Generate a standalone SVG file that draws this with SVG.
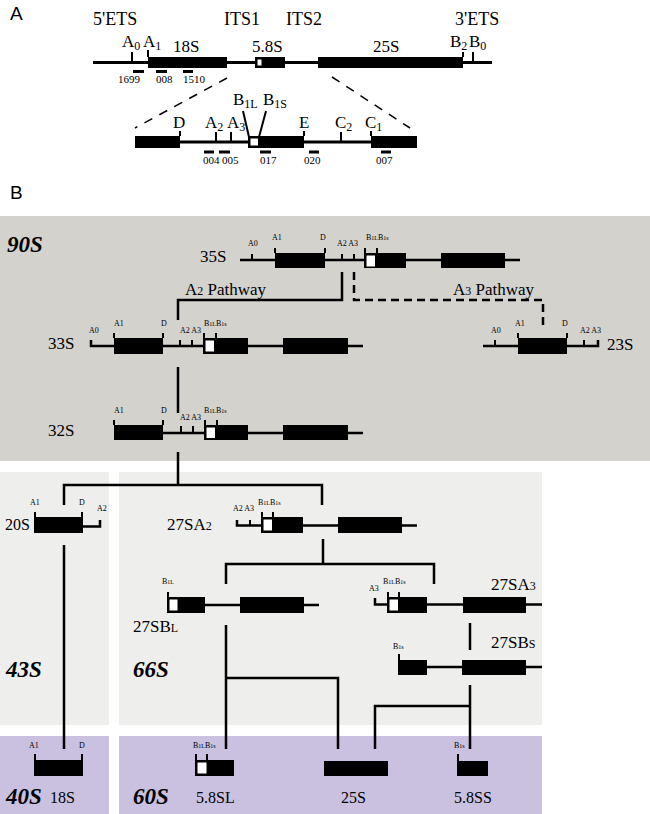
<svg xmlns="http://www.w3.org/2000/svg" width="650" height="814" viewBox="0 0 650 814">
<style>
.ln{stroke:#000;stroke-width:2.5;fill:none}
.la{stroke:#000;stroke-width:3;fill:none}
.tk{stroke:#000;stroke-width:2;fill:none}
.ds{stroke:#000;stroke-width:2.5;fill:none;stroke-dasharray:8 5}
.da{stroke:#000;stroke-width:1.5;fill:none;stroke-dasharray:9 8}
.bx{fill:#000}
.wh{fill:#fff}
text{font-family:"Liberation Serif","Times New Roman",serif;fill:#000}
.hd{font-family:"Liberation Sans",Arial,sans-serif;font-size:19px}
.lg{font-size:17px}
.xl{font-size:18px}
.md{font-size:16px}
.pr{font-size:11px}
.sm{font-size:8px}
.ss{font-size:6px}
.sb{font-size:12px}
.big{font-size:23px;font-weight:bold;font-style:italic}
</style>

<!-- Panel backgrounds -->
<g id="bg">
<rect x="0" y="216" width="650" height="245" fill="#d3d2cd"/>
<rect x="0" y="472" width="109" height="253" fill="#eeeeec"/>
<rect x="119" y="472" width="423" height="253" fill="#eeeeec"/>
<rect x="0" y="736" width="109" height="78" fill="#c9c1df"/>
<rect x="119" y="736" width="423" height="78" fill="#c9c1df"/>
</g>

<text class="hd" x="10" y="20">A</text>
<text class="hd" x="10" y="199">B</text>

<!-- Part A: full gene -->
<g id="gene-full">
<line class="la" x1="93" y1="62.5" x2="492" y2="62.5"/>
<rect class="bx" x="148" y="57" width="79" height="11"/>
<rect class="bx" x="255" y="57" width="30" height="11"/>
<rect class="wh" x="257.5" y="59.5" width="4" height="6"/>
<rect class="bx" x="318" y="57" width="145" height="11"/>
<line class="tk" x1="132" y1="52" x2="132" y2="62"/>
<line class="tk" x1="148" y1="50" x2="148" y2="57"/>
<line class="tk" x1="463" y1="52" x2="463" y2="57"/>
<line class="tk" x1="473" y1="52" x2="473" y2="62"/>
<rect class="bx" x="133" y="70" width="11" height="3"/>
<rect class="bx" x="156" y="70" width="11" height="3"/>
<rect class="bx" x="183" y="70" width="10" height="3"/>
<text class="xl" x="93" y="25">5'ETS</text>
<text class="xl" x="224" y="25">ITS1</text>
<text class="xl" x="286" y="25">ITS2</text>
<text class="xl" x="455" y="25">3'ETS</text>
<text class="lg" x="122" y="47">A<tspan class="sb" dy="3">0</tspan></text>
<text class="lg" x="143" y="47">A<tspan class="sb" dy="3">1</tspan></text>
<text class="lg" x="173" y="52">18S</text>
<text class="lg" x="252" y="52">5.8S</text>
<text class="lg" x="373" y="52">25S</text>
<text class="lg" x="450" y="47">B<tspan class="sb" dy="3">2</tspan></text>
<text class="lg" x="469" y="47">B<tspan class="sb" dy="3">0</tspan></text>
<text class="pr" x="118" y="83">1699</text>
<text class="pr" x="156" y="83">008</text>
<text class="pr" x="183" y="83">1510</text>
</g>

<!-- Part A: expanded region -->
<g id="gene-zoom">
<line class="da" x1="227" y1="78" x2="135" y2="128"/>
<line class="da" x1="332" y1="77" x2="410" y2="128"/>
<line class="la" x1="135" y1="142" x2="417" y2="142"/>
<rect class="bx" x="135" y="136" width="45" height="12"/>
<rect class="bx" x="248" y="136" width="56" height="12"/>
<rect class="wh" x="250.5" y="138.5" width="7.5" height="7"/>
<rect class="bx" x="371" y="136" width="46" height="12"/>
<line class="tk" x1="180" y1="131" x2="180" y2="136"/>
<line class="tk" x1="216" y1="132" x2="216" y2="142"/>
<line class="tk" x1="231" y1="132" x2="231" y2="142"/>
<line class="tk" x1="304" y1="131" x2="304" y2="136"/>
<line class="tk" x1="341" y1="132" x2="341" y2="142"/>
<line class="tk" x1="371" y1="131" x2="371" y2="136"/>
<line class="tk" x1="243" y1="111" x2="249" y2="137"/>
<line class="tk" x1="266" y1="111" x2="259" y2="137"/>
<rect class="bx" x="204" y="150.5" width="10" height="3"/>
<rect class="bx" x="219" y="150.5" width="11" height="3"/>
<rect class="bx" x="260" y="150.5" width="11" height="3"/>
<rect class="bx" x="309" y="150.5" width="10" height="3"/>
<rect class="bx" x="381" y="150.5" width="10" height="3"/>
<text class="lg" x="233" y="105">B<tspan class="sb" dy="3">1L</tspan></text>
<text class="lg" x="263" y="105">B<tspan class="sb" dy="3">1S</tspan></text>
<text class="lg" x="173" y="128">D</text>
<text class="lg" x="205" y="128">A<tspan class="sb" dy="3">2</tspan></text>
<text class="lg" x="227" y="128">A<tspan class="sb" dy="3">3</tspan></text>
<text class="lg" x="299" y="128">E</text>
<text class="lg" x="335" y="128">C<tspan class="sb" dy="3">2</tspan></text>
<text class="lg" x="365" y="128">C<tspan class="sb" dy="3">1</tspan></text>
<text class="pr" x="203" y="164">004</text>
<text class="pr" x="222" y="164">005</text>
<text class="pr" x="260" y="164">017</text>
<text class="pr" x="304" y="164">020</text>
<text class="pr" x="376" y="164">007</text>
</g>

<!-- Part B complex labels -->
<g id="complex-labels">
<text class="big" x="7" y="252">90S</text>
<text class="big" x="6" y="677">43S</text>
<text class="big" x="133" y="677">66S</text>
<text class="big" x="6" y="804">40S</text>
<text class="big" x="133" y="804">60S</text>
</g>

<!-- Connectors -->
<g id="connectors">
<path class="ln" d="M342 272V300H178V320"/>
<path class="ds" d="M354 272V300H543V327"/>
<line class="ln" x1="178" y1="367" x2="178" y2="413"/>
<path class="ln" d="M178 452V485M64 505V485H322V505"/>
<line class="ln" x1="64" y1="545" x2="64" y2="749"/>
<path class="ln" d="M323 539V564M226 584V564H434V584"/>
<line class="ln" x1="470" y1="623" x2="470" y2="650"/>
<path class="ln" d="M226 625V749M226 678H338V749"/>
<path class="ln" d="M470 685V749M470 706H375V749"/>
<text class="lg" x="185" y="295">A<tspan class="sb">2</tspan> Pathway</text>
<text class="lg" x="453" y="295">A<tspan class="sb">3</tspan> Pathway</text>
</g>

<!-- 35S -->
<g id="n35S">
<text class="lg" x="200" y="262">35S</text>
<line class="ln" x1="240" y1="260" x2="520" y2="260"/>
<rect class="bx" x="275" y="253" width="50" height="15"/>
<rect class="bx" x="364" y="253" width="42" height="15"/>
<rect class="wh" x="366.5" y="255.5" width="8.5" height="11"/>
<rect class="bx" x="441" y="253" width="64" height="15"/>
<line class="tk" x1="252" y1="254" x2="252" y2="260"/>
<line class="tk" x1="275" y1="248" x2="275" y2="253"/>
<line class="tk" x1="325" y1="248" x2="325" y2="253"/>
<line class="tk" x1="342" y1="254" x2="342" y2="260"/>
<line class="tk" x1="354" y1="254" x2="354" y2="260"/>
<line class="tk" x1="365" y1="248" x2="365" y2="253"/>
<line class="tk" x1="377" y1="248" x2="377" y2="253"/>
<text class="sm" x="248" y="246">A0</text>
<text class="sm" x="272" y="240">A1</text>
<text class="sm" x="320" y="240">D</text>
<text class="sm" x="337" y="246">A2 A3</text>
<text class="sm" x="366" y="240">B<tspan class="ss">1L</tspan>B<tspan class="ss">1s</tspan></text>
</g>

<!-- 33S -->
<g id="n33S">
<text class="lg" x="48" y="349">33S</text>
<path class="ln" d="M91 340V346H363"/>
<rect class="bx" x="114" y="338" width="49" height="16"/>
<rect class="bx" x="203" y="338" width="45" height="16"/>
<rect class="wh" x="205.5" y="340.5" width="8.5" height="11"/>
<rect class="bx" x="283" y="338" width="65" height="16"/>
<line class="tk" x1="114" y1="333" x2="114" y2="338"/>
<line class="tk" x1="163" y1="333" x2="163" y2="338"/>
<line class="tk" x1="180" y1="340" x2="180" y2="346"/>
<line class="tk" x1="192" y1="340" x2="192" y2="346"/>
<line class="tk" x1="204" y1="333" x2="204" y2="338"/>
<line class="tk" x1="216" y1="333" x2="216" y2="338"/>
<text class="sm" x="89" y="333">A0</text>
<text class="sm" x="114" y="326">A1</text>
<text class="sm" x="161" y="326">D</text>
<text class="sm" x="180" y="333">A2 A3</text>
<text class="sm" x="204" y="326">B<tspan class="ss">1L</tspan>B<tspan class="ss">1s</tspan></text>
</g>

<!-- 23S -->
<g id="n23S">
<path class="ln" d="M483 346H598V340"/>
<rect class="bx" x="518" y="338" width="49" height="16"/>
<line class="tk" x1="495" y1="340" x2="495" y2="346"/>
<line class="tk" x1="518" y1="333" x2="518" y2="338"/>
<line class="tk" x1="567" y1="333" x2="567" y2="338"/>
<line class="tk" x1="584" y1="340" x2="584" y2="346"/>
<text class="sm" x="491" y="333">A0</text>
<text class="sm" x="515" y="326">A1</text>
<text class="sm" x="562" y="326">D</text>
<text class="sm" x="580" y="333">A2 A3</text>
<text class="lg" x="607" y="350">23S</text>
</g>

<!-- 32S -->
<g id="n32S">
<text class="lg" x="48" y="436">32S</text>
<line class="ln" x1="163" y1="433" x2="363" y2="433"/>
<rect class="bx" x="114" y="425" width="49" height="15"/>
<rect class="bx" x="204" y="425" width="44" height="15"/>
<rect class="wh" x="206.5" y="427.5" width="8.5" height="10.5"/>
<rect class="bx" x="283" y="425" width="65" height="15"/>
<line class="tk" x1="114" y1="420" x2="114" y2="425"/>
<line class="tk" x1="163" y1="420" x2="163" y2="425"/>
<line class="tk" x1="181" y1="426" x2="181" y2="433"/>
<line class="tk" x1="193" y1="426" x2="193" y2="433"/>
<line class="tk" x1="205" y1="420" x2="205" y2="425"/>
<line class="tk" x1="217" y1="420" x2="217" y2="425"/>
<text class="sm" x="114" y="413">A1</text>
<text class="sm" x="161" y="413">D</text>
<text class="sm" x="180" y="420">A2 A3</text>
<text class="sm" x="204" y="413">B<tspan class="ss">1L</tspan>B<tspan class="ss">1s</tspan></text>
</g>

<!-- 20S -->
<g id="n20S">
<text class="md" x="5" y="530">20S</text>
<rect class="bx" x="34" y="517" width="49" height="16"/>
<path class="ln" d="M83 526.5H100V520"/>
<line class="tk" x1="35" y1="512" x2="35" y2="517"/>
<line class="tk" x1="82" y1="512" x2="82" y2="517"/>
<text class="sm" x="30" y="505">A1</text>
<text class="sm" x="79" y="505">D</text>
<text class="sm" x="97" y="511">A2</text>
</g>

<!-- 27SA2 -->
<g id="n27SA2">
<text class="lg" x="167" y="530">27SA<tspan class="sb">2</tspan></text>
<path class="ln" d="M237 520V525.5H417"/>
<rect class="bx" x="261" y="517" width="42" height="16"/>
<rect class="wh" x="263.5" y="519.5" width="8.5" height="11"/>
<rect class="bx" x="338" y="517" width="64" height="16"/>
<line class="tk" x1="250" y1="520" x2="250" y2="526"/>
<line class="tk" x1="262" y1="512" x2="262" y2="517"/>
<line class="tk" x1="273" y1="512" x2="273" y2="517"/>
<text class="sm" x="233" y="511">A2 A3</text>
<text class="sm" x="258" y="505">B<tspan class="ss">1L</tspan>B<tspan class="ss">1s</tspan></text>
</g>

<!-- 27SBL -->
<g id="n27SBL">
<line class="ln" x1="205" y1="605" x2="319" y2="605"/>
<rect class="bx" x="167" y="597" width="38" height="16"/>
<rect class="wh" x="169.5" y="599.5" width="8" height="11"/>
<rect class="bx" x="240" y="597" width="64" height="16"/>
<line class="tk" x1="168" y1="592" x2="168" y2="597"/>
<text class="sm" x="162" y="584">B<tspan class="ss">1L</tspan></text>
<text class="lg" x="133" y="632">27SB<tspan class="sb">L</tspan></text>
</g>

<!-- 27SA3 -->
<g id="n27SA3">
<path class="ln" d="M375 598V604.5H542"/>
<rect class="bx" x="387" y="597" width="40" height="16"/>
<rect class="wh" x="389.5" y="599.5" width="8.5" height="11"/>
<rect class="bx" x="463" y="597" width="63" height="16"/>
<line class="tk" x1="388" y1="592" x2="388" y2="597"/>
<line class="tk" x1="399" y1="592" x2="399" y2="597"/>
<text class="sm" x="369" y="591">A3</text>
<text class="sm" x="383" y="584">B<tspan class="ss">1L</tspan>B<tspan class="ss">1s</tspan></text>
<text class="lg" x="491" y="590">27SA<tspan class="sb">3</tspan></text>
</g>

<!-- 27SBs -->
<g id="n27SBs">
<line class="ln" x1="427" y1="667" x2="542" y2="667"/>
<rect class="bx" x="398" y="660" width="29" height="15"/>
<rect class="bx" x="462" y="660" width="64" height="15"/>
<line class="tk" x1="399" y1="654" x2="399" y2="660"/>
<text class="sm" x="393" y="649">B<tspan class="ss">1s</tspan></text>
<text class="lg" x="491" y="648">27SB<tspan class="sb">S</tspan></text>
</g>

<!-- 18S -->
<g id="n18S">
<rect class="bx" x="34" y="760" width="49" height="16"/>
<line class="tk" x1="35" y1="754" x2="35" y2="760"/>
<line class="tk" x1="82" y1="754" x2="82" y2="760"/>
<text class="sm" x="29" y="748">A1</text>
<text class="sm" x="79" y="748">D</text>
<text class="md" x="50" y="803">18S</text>
</g>

<!-- 5.8SL -->
<g id="n58SL">
<rect class="bx" x="195" y="760" width="39" height="16"/>
<rect class="wh" x="197.5" y="762.5" width="9" height="11"/>
<line class="tk" x1="196" y1="754" x2="196" y2="760"/>
<line class="tk" x1="207" y1="754" x2="207" y2="760"/>
<text class="sm" x="193" y="748">B<tspan class="ss">1L</tspan>B<tspan class="ss">1s</tspan></text>
<text class="md" x="196" y="803">5.8SL</text>
</g>

<!-- 25S -->
<g id="n25S">
<rect class="bx" x="324" y="761" width="64" height="15"/>
<text class="md" x="341" y="803">25S</text>
</g>

<!-- 5.8SS -->
<g id="n58SS">
<rect class="bx" x="457" y="761" width="31" height="15"/>
<line class="tk" x1="458" y1="754" x2="458" y2="761"/>
<text class="sm" x="454" y="748">B<tspan class="ss">1s</tspan></text>
<text class="md" x="454" y="803">5.8SS</text>
</g>
</svg>
